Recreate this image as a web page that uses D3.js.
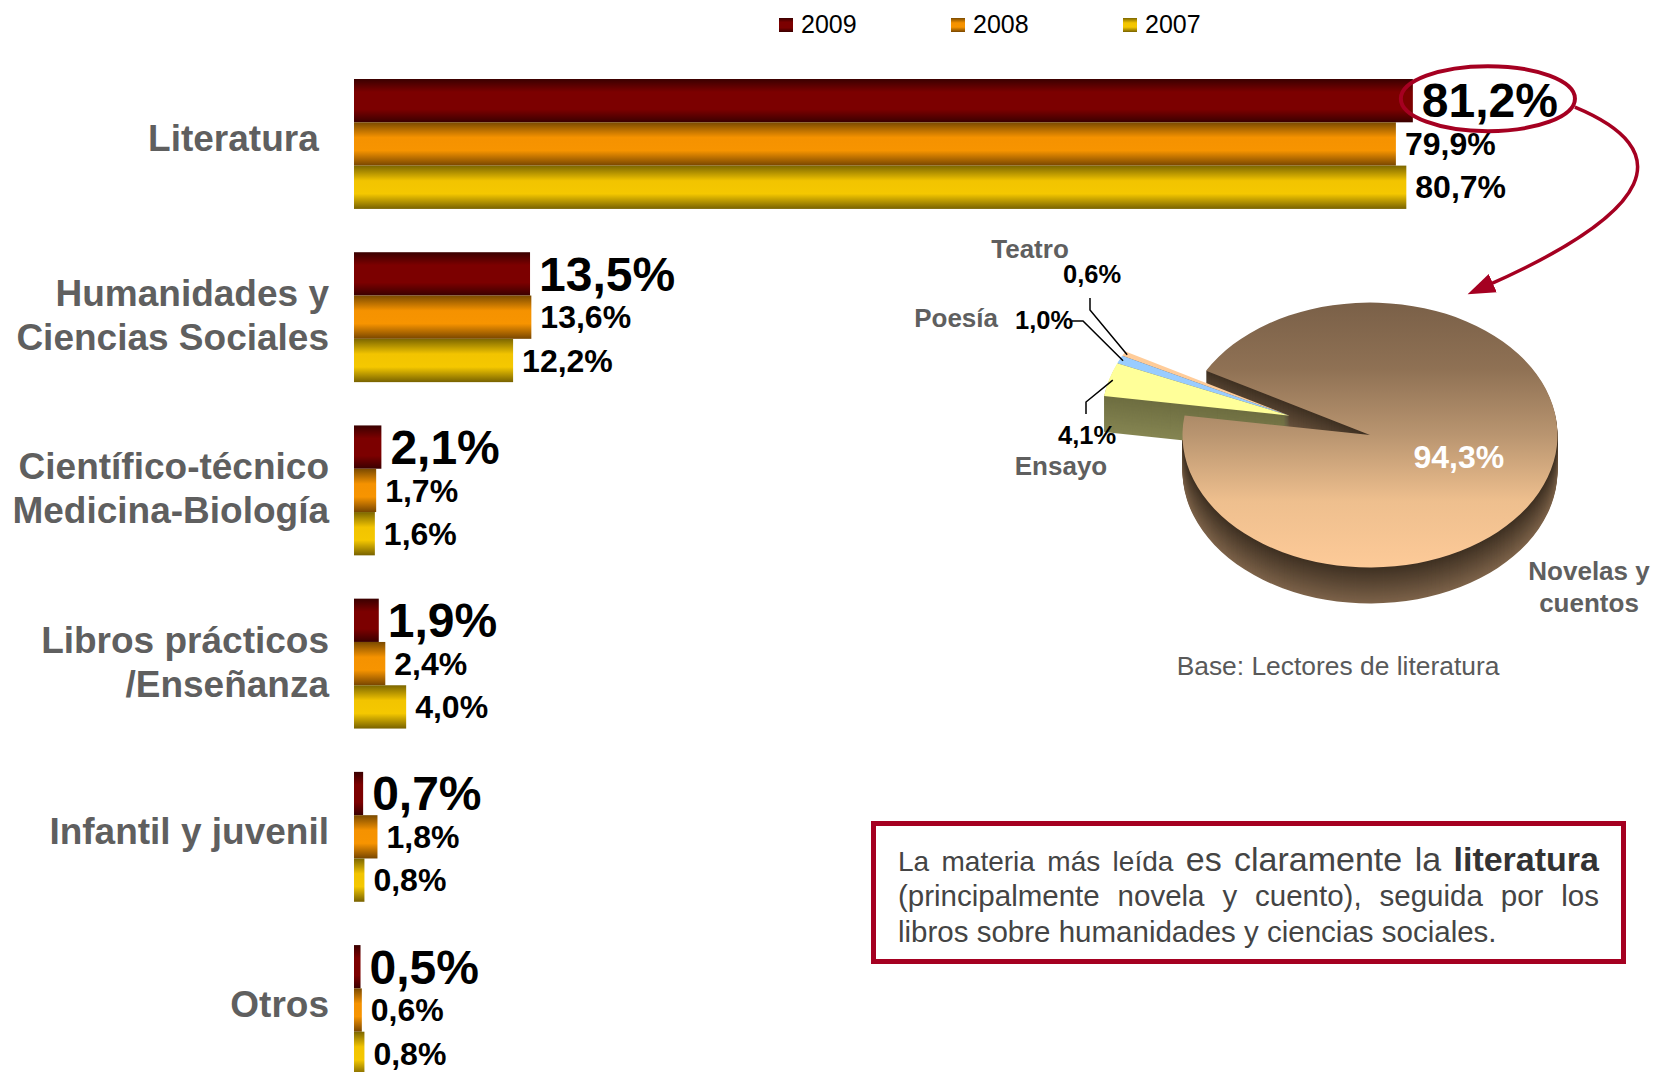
<!DOCTYPE html>
<html>
<head>
<meta charset="utf-8">
<script src="https://cdn.jsdelivr.net/npm/d3@7"></script>
<style>
  body { margin: 0; background: #fff; }
  svg { display: block; font-family: "Liberation Sans", Arial, sans-serif; }
</style>
</head>
<body>
<svg id="chart" width="1654" height="1072"></svg>
<script>
// bar chart data
const categories = ["Literatura", "Humanidades y Ciencias Sociales", "Científico-técnico Medicina-Biología",
                    "Libros prácticos /Enseñanza", "Infantil y juvenil", "Otros"];
const categoryLines = [["Literatura "], ["Humanidades y", "Ciencias Sociales"], ["Científico-técnico", "Medicina-Biología"],
                       ["Libros prácticos", "/Enseñanza"], ["Infantil y juvenil"], ["Otros"]];
const years = ["2009", "2008", "2007"];
const values2009 = [81.2, 13.5, 2.1, 1.9, 0.7, 0.5];
const values2008 = [79.9, 13.6, 1.7, 2.4, 1.8, 0.6];
const values2007 = [80.7, 12.2, 1.6, 4.0, 0.8, 0.8];

// pie data (lectores de literatura)
const pieNames = ["Ensayo", "Poesía", "Teatro", "Novelas y cuentos"];
const pieValues = [4.1, 1.0, 0.6, 94.3];

const noteLines = [
  [{t: "La materia más leída", s: 28}, {t: "es claramente la", s: 34}, {t: "literatura", s: 34, b: true}],
  [{t: "(principalmente novela y cuento), seguida por los", s: 29.5}],
  [{t: "libros sobre humanidades y ciencias sociales.", s: 29.5, last: true}]
];

const loc = d3.formatLocale({decimal: ",", thousands: ".", grouping: [3], currency: ["", "€"]});
const fmt = v => loc.format(".1f")(v) + "%";

const svg = d3.select("#chart");
const defs = svg.append("defs");

// bar gradients
const gradStops = {
  "2009": [["0", "#3a0000"], ["0.3", "#7c0000"], ["0.7", "#7c0000"], ["1", "#3a0000"]],
  "2008": [["0", "#7a4a00"], ["0.35", "#f59200"], ["0.65", "#f79400"], ["1", "#784600"]],
  "2007": [["0", "#7c6600"], ["0.35", "#f2c400"], ["0.65", "#f5c800"], ["1", "#786200"]]
};
years.forEach(yr => {
  const g = defs.append("linearGradient").attr("id", "g" + yr)
    .attr("x1", 0).attr("y1", 0).attr("x2", 0).attr("y2", 1);
  gradStops[yr].forEach(s => g.append("stop").attr("offset", s[0]).attr("stop-color", s[1]));
});

const series = [values2009, values2008, values2007];

// scales
const x = d3.scaleLinear().domain([0, 100]).range([354, 1658]);
const y0 = d3.scaleBand().domain(categories).range([79, 1075]).paddingInner(0.25);
const y1 = d3.scaleBand().domain(years).range([0, y0.bandwidth()]);

// legend
const legendX = d3.scalePoint().domain(years).range([779, 1123]);
const legend = svg.append("g");
legend.selectAll("rect").data(years).enter().append("rect")
  .attr("x", d => legendX(d)).attr("y", 18).attr("width", 14).attr("height", 14)
  .attr("fill", d => `url(#g${d})`);
legend.selectAll("text").data(years).enter().append("text")
  .attr("x", d => legendX(d) + 22).attr("y", 33)
  .attr("font-size", 25).attr("fill", "#000").text(d => d);

// bars
const groups = svg.append("g").selectAll("g").data(categories).enter().append("g")
  .attr("transform", d => `translate(0,${y0(d)})`);

groups.each(function(cat, ci) {
  const g = d3.select(this);
  const rows = years.map((yr, yi) => ({year: yr, value: series[yi][ci]}));
  g.selectAll("rect").data(rows).enter().append("rect")
    .attr("x", x(0))
    .attr("y", d => y1(d.year))
    .attr("width", d => x(d.value) - x(0))
    .attr("height", y1.bandwidth())
    .attr("fill", d => `url(#g${d.year})`);
  g.selectAll("text.val").data(rows).enter().append("text")
    .attr("class", "val")
    .attr("id", d => (ci === 0 && d.year === "2009") ? "topLabel" : null)
    .attr("x", d => x(d.value) + 9)
    .attr("y", d => y1(d.year) + y1.bandwidth() / 2)
    .attr("dy", "0.35em")
    .attr("font-size", d => d.year === "2009" ? 48 : 32)
    .attr("font-weight", "bold")
    .attr("fill", "#000")
    .text(d => fmt(d.value));

  // category label
  const lines = categoryLines[ci];
  const mid = y0.bandwidth() / 2;
  const t = g.append("text")
    .attr("text-anchor", "end")
    .attr("font-size", 37).attr("font-weight", "bold").attr("fill", "#5f5f5f")
    .style("white-space", "pre");
  lines.forEach((ln, li) => {
    const yy = lines.length === 1 ? mid + 7 : mid - 11 + li * 44;
    t.append("tspan").attr("x", 329).attr("y", yy).text(ln);
  });
});

// highlight ellipse + arrow
const bb = document.getElementById("topLabel").getBBox();
const ecx = bb.x + bb.width / 2 - 2;
const ecy = y0(categories[0]) + y1("2009") + y1.bandwidth() / 2 - 2;
svg.append("ellipse")
  .attr("cx", ecx).attr("cy", ecy).attr("rx", bb.width / 2 + 19).attr("ry", 32.5)
  .attr("fill", "none").attr("stroke", "#a50021").attr("stroke-width", 4);

defs.append("marker").attr("id", "arrowhead")
  .attr("markerUnits", "userSpaceOnUse").attr("markerWidth", 30).attr("markerHeight", 30)
  .attr("viewBox", "0 -10 24 20").attr("refX", 6).attr("refY", 0).attr("orient", "auto")
  .append("path").attr("d", "M0,-8 L22,0 L0,8 Z").attr("fill", "#a50021");

const ap = d3.path();
ap.moveTo(ecx + 87, ecy + 8.5);
ap.bezierCurveTo(ecx + 190, ecy + 51.5, ecx + 170, ecy + 111.5, ecx - 2, ecy + 187.5);
svg.append("path").attr("d", ap.toString())
  .attr("fill", "none").attr("stroke", "#a50021").attr("stroke-width", 3.5)
  .attr("marker-end", "url(#arrowhead)");

// 3D pie
const cx = 1370, cy = 435, R = 187.5, tilt = 0.7066, depth = 36, explode = 85;
const start = -81.5 * Math.PI / 180;
const pie = d3.pie().sort(null).value(d => d).startAngle(start).endAngle(start + 2 * Math.PI);
const arcs = pie(pieValues);
const arc = d3.arc().innerRadius(0).outerRadius(R);
const gapMid = (arcs[0].startAngle + arcs[2].endAngle) / 2;
arcs.forEach((a, i) => {
  const d = i < 3 ? explode : 0;
  a.ox = d * Math.sin(gapMid);
  a.oy = -d * Math.cos(gapMid);
});

const topColors = ["#ffff99", "#99ccff", "#ffcc99", "url(#gNovelas)"];
const sideColors = [["#6d6d40", "#858552"], ["#3d5675", "#56759a"], ["#7a5a3a", "#9c7c5c"], ["#3e3022", "#7c6249"]];

const ng = defs.append("linearGradient").attr("id", "gNovelas")
  .attr("x1", 0).attr("y1", 0).attr("x2", 0).attr("y2", 1);
[["0", "#7a6048"], ["0.25", "#8f7154"], ["0.5", "#b99570"], ["0.75", "#eebf8e"], ["1", "#fdca98"]]
  .forEach(s => ng.append("stop").attr("offset", s[0]).attr("stop-color", s[1]));

const pieG = svg.append("g");
function drawSides(i) {
  const a = arcs[i];
  const col = d3.interpolateRgb(sideColors[i][0], sideColors[i][1]);
  for (let k = depth; k >= 1; k--) {
    pieG.append("path")
      .attr("transform", `translate(${cx},${cy + k}) scale(1,${tilt}) translate(${a.ox},${a.oy})`)
      .attr("d", arc(a))
      .attr("fill", col(k / depth));
  }
}
function drawTop(i) {
  const a = arcs[i];
  pieG.append("path")
    .attr("transform", `translate(${cx},${cy}) scale(1,${tilt}) translate(${a.ox},${a.oy})`)
    .attr("d", arc(a))
    .attr("fill", topColors[i]);
}
drawSides(3);
[2, 1, 0].forEach(i => { drawSides(i); drawTop(i); });
drawTop(3);

// pie labels
const c3 = arc.centroid(arcs[3]);
svg.append("text")
  .attr("x", cx + c3[0]).attr("y", cy + c3[1] * tilt).attr("dy", "0.35em")
  .attr("text-anchor", "middle").attr("font-size", 32).attr("font-weight", "bold")
  .attr("fill", "#fff").text(fmt(pieValues[3]));

const nov = svg.append("text").attr("text-anchor", "middle")
  .attr("font-size", 26).attr("font-weight", "bold").attr("fill", "#5f5f5f");
nov.append("tspan").attr("x", 1589).attr("y", 580).text("Novelas y");
nov.append("tspan").attr("x", 1589).attr("y", 612).text("cuentos");

// label layout for the exploded slices
const smallLayout = [
  {name: [1061, 475, "middle"], val: [1058, 444], lead: [[1086, 414], [1086, 402]]},
  {name: [998, 327, "end"], val: [1015, 329], lead: [[1072, 321], [1083, 321]]},
  {name: [1030, 258, "middle"], val: [1063, 283], lead: [[1090, 298], [1090, 310]]}
];
smallLayout.forEach((L, i) => {
  const a = arcs[i];
  const m = (a.startAngle + a.endAngle) / 2;
  const px = cx + a.ox + R * 0.98 * Math.sin(m);
  const py = cy + (a.oy - R * 0.98 * Math.cos(m)) * tilt;
  svg.append("path")
    .attr("d", d3.line()([L.lead[0], L.lead[1], [px, py]]))
    .attr("fill", "none").attr("stroke", "#000").attr("stroke-width", 1.5);
  svg.append("text")
    .attr("x", L.name[0]).attr("y", L.name[1]).attr("text-anchor", L.name[2])
    .attr("font-size", 26).attr("font-weight", "bold").attr("fill", "#5f5f5f")
    .text(pieNames[i]);
  svg.append("text")
    .attr("x", L.val[0]).attr("y", L.val[1])
    .attr("font-size", 25.5).attr("font-weight", "bold").attr("fill", "#000")
    .text(fmt(pieValues[i]));
});

svg.append("text")
  .attr("x", 1338).attr("y", 675).attr("text-anchor", "middle")
  .attr("font-size", 26.4).attr("fill", "#595959")
  .text("Base: Lectores de literatura");

// note box
svg.append("rect")
  .attr("x", 873.5).attr("y", 823.5).attr("width", 750).attr("height", 138)
  .attr("fill", "#fff").attr("stroke", "#a50021").attr("stroke-width", 5);

const left = 898, right = 1599, baselines = [871, 906, 942];
noteLines.forEach((segs, li) => {
  const words = [];
  segs.forEach(s => s.t.split(" ").forEach(w => words.push({w, s: s.s, b: s.b})));
  const nodes = words.map(wd => svg.append("text")
    .attr("y", baselines[li])
    .attr("font-size", wd.s)
    .attr("font-weight", wd.b ? "bold" : "normal")
    .attr("fill", wd.b ? "#333" : "#444")
    .text(wd.w));
  const widths = nodes.map(n => n.node().getComputedTextLength());
  const total = d3.sum(widths);
  const isLast = segs[0].last;
  const gap = isLast ? segs[0].s * 0.278 : (right - left - total) / (words.length - 1);
  let cur = left;
  nodes.forEach((n, i) => { n.attr("x", cur); cur += widths[i] + gap; });
});
</script>
</body>
</html>
